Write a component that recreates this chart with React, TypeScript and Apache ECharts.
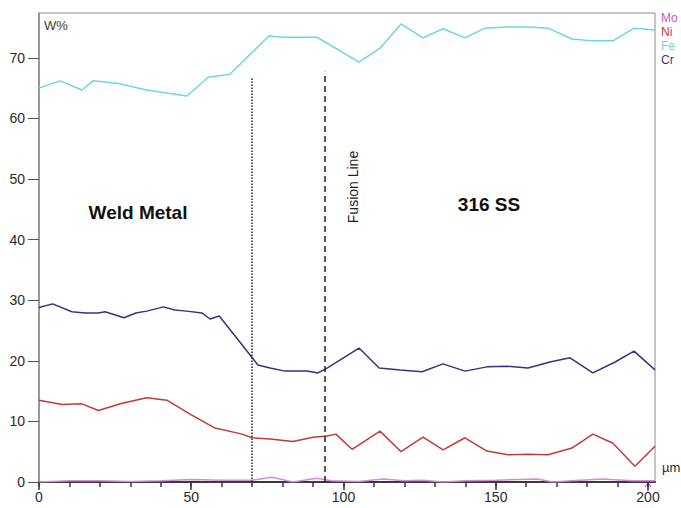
import React, { useEffect, useRef } from "react";
import * as echarts from "echarts";

// Distance along the line scan (µm) and weight percent for each element.
const fe: [number, number][] = [
  [0, 65.0], [6.9, 66.2], [14.1, 64.7], [17.7, 66.2], [25.6, 65.8], [35.4, 64.7],
  [42, 64.2], [48.6, 63.7], [55.6, 66.8], [62.7, 67.3], [75.5, 73.6], [80, 73.4],
  [91.3, 73.4], [105.1, 69.3], [112, 71.6], [118.9, 75.6], [126.1, 73.3], [132.7, 74.8],
  [139.9, 73.3], [146.5, 74.9], [153.7, 75.1], [161.2, 75.1], [167.2, 74.9], [175, 73.1],
  [181.9, 72.8], [188.5, 72.8], [195.4, 74.9], [202.3, 74.6],
];

const cr: [number, number][] = [
  [0, 28.8], [4.5, 29.4], [10.8, 28.1], [15.1, 27.9], [19.5, 27.9], [21.7, 28.1],
  [27.9, 27.1], [31.8, 27.9], [35.4, 28.2], [40.9, 28.9], [44.6, 28.4], [48.5, 28.2],
  [53.5, 27.9], [56.2, 26.9], [59.2, 27.4], [69.9, 20.6], [71.9, 19.3], [75.9, 18.8],
  [80.8, 18.3], [88, 18.3], [91.6, 18.0], [94.6, 18.8], [105.1, 22.1], [111.7, 18.8],
  [118.6, 18.5], [125.8, 18.2], [132.7, 19.5], [139.9, 18.3], [147.1, 19.0], [153.7, 19.1],
  [160.6, 18.8], [167.8, 19.8], [174.4, 20.5], [181.9, 18.0], [189.2, 19.8], [195.4, 21.6],
  [202.3, 18.5],
];

const ni: [number, number][] = [
  [0, 13.5], [7.6, 12.8], [14.1, 12.9], [19.5, 11.8], [27.3, 13.0], [35.4, 13.9],
  [42, 13.5], [49.6, 11.2], [57.8, 8.9], [66.7, 7.9], [69.9, 7.3], [75.9, 7.1],
  [83.4, 6.7], [90, 7.4], [94.6, 7.6], [97.5, 7.9], [102.8, 5.4], [112, 8.4],
  [118.9, 5.0], [126.1, 7.4], [132.7, 5.3], [139.9, 7.3], [147.1, 5.1], [154, 4.5],
  [160.6, 4.6], [167.2, 4.5], [175, 5.6], [181.9, 7.9], [188.5, 6.4], [195.7, 2.6],
  [202.3, 5.9],
];

const mo: [number, number][] = [
  [0, 0], [10, 0.2], [20, 0.2], [30, 0.1], [40, 0.2], [50, 0.4], [60, 0.3],
  [70, 0.3], [76.5, 0.8], [83.4, 0], [91.3, 0.6], [96, 0.2], [105, 0.1], [113, 0.5],
  [120, 0.2], [126, 0.3], [132.7, 0], [140, 0.2], [150, 0.3], [163.5, 0.5],
  [168.8, 0], [175, 0.2], [185, 0.5], [195, 0.2], [202.3, 0.2],
];

// Boundary markers: end of the weld metal and the fusion line.
const weldEdge = { x: 70, top: 66.8 };
const fusionLine = { x: 94, top: 67.7 };

const yTicks = [0, 10, 20, 30, 40, 50, 60, 70];
const xLabels = [0, 50, 100, 150, 200];
const xMinor = [0, 10, 20, 30, 40, 50, 60, 70, 80, 90, 100, 110, 120, 130, 140, 150, 160, 170, 180, 190, 200];

const elements = ["Mo", "Ni", "Fe", "Cr"];
const colors: Record<string, string> = {
  Mo: "#cc55cc",
  Ni: "#c43a3a",
  Fe: "#6ed8de",
  Cr: "#35357e",
};
const lineColors: Record<string, string> = {
  ...colors,
  Mo: "#d88ad8",
};

const FONT = "Liberation Sans, Arial, sans-serif";

export default function App() {
  const ref = useRef<HTMLDivElement>(null);

  useEffect(() => {
    if (!ref.current) return;
    const chart = echarts.init(ref.current, undefined, { renderer: "svg" });

    const xMax = 202.3;
    const yMax = 77.4;

    const line = (name: string, data: [number, number][], extra: any = {}) => ({
      name,
      type: "line",
      data,
      symbol: "none",
      silent: true,
      lineStyle: { color: lineColors[name], width: 1.5 },
      z: 3,
      ...extra,
    });

    chart.setOption({
      animation: false,
      backgroundColor: "#ffffff",
      grid: {
        left: 39,
        right: 26,
        top: 13,
        bottom: 26,
        show: true,
        borderColor: "#8a8a8a",
        borderWidth: 1,
      },
      xAxis: [
        {
          type: "value",
          min: 0,
          max: xMax,
          position: "bottom",
          axisLine: { show: true, onZero: false, lineStyle: { color: "#3a3a3a", width: 2 } },
          axisTick: { show: true, customValues: xMinor, length: 5, lineStyle: { color: "#3a3a3a", width: 1.5 } },
          axisLabel: {
            customValues: xLabels,
            margin: 8,
            color: "#2a2a2a",
            fontSize: 14,
            fontFamily: FONT,
          },
          splitLine: { show: false },
        },
        {
          type: "value",
          min: 0,
          max: xMax,
          position: "bottom",
          axisLine: { show: false },
          axisTick: { show: true, customValues: xLabels, length: 8, lineStyle: { color: "#3a3a3a", width: 1.5 } },
          axisLabel: { show: false },
          splitLine: { show: false },
        },
      ],
      yAxis: {
        type: "value",
        min: 0,
        max: yMax,
        axisLine: { show: true, lineStyle: { color: "#8a8a8a", width: 1.5 } },
        axisTick: { show: true, customValues: yTicks, length: 11, lineStyle: { color: "#555", width: 1 } },
        axisLabel: {
          customValues: yTicks,
          margin: 14,
          color: "#2a2a2a",
          fontSize: 14,
          fontFamily: FONT,
        },
        splitLine: { show: false },
      },
      series: [
        line("Fe", fe),
        line("Cr", cr),
        line("Ni", ni),
        line("Mo", mo, {
          markLine: {
            silent: true,
            symbol: "none",
            label: { show: false },
            data: [
              [
                { coord: [weldEdge.x, 0], lineStyle: { type: [1.5, 1.5], color: "#222", width: 1.5 } },
                { coord: [weldEdge.x, weldEdge.top] },
              ],
              [
                { coord: [fusionLine.x, 0], lineStyle: { type: [6, 4], color: "#222", width: 1.5 } },
                { coord: [fusionLine.x, fusionLine.top] },
              ],
            ],
          },
        }),
      ],
      graphic: [
        {
          type: "text",
          left: 44,
          top: 19,
          style: { text: "W%", fill: "#3a3a3a", font: `13px ${FONT}` },
        },
        {
          type: "text",
          left: 662,
          top: 461,
          style: { text: "µm", fill: "#2a2a2a", font: `13px ${FONT}` },
        },
        ...elements.map((el, i) => ({
          type: "text",
          left: 661,
          top: 12 + i * 14,
          style: { text: el, fill: colors[el], font: `12px ${FONT}` },
        })),
        {
          type: "text",
          x: 138,
          y: 212,
          style: {
            text: "Weld Metal",
            fill: "#111",
            font: `bold 19px ${FONT}`,
            align: "center",
            verticalAlign: "middle",
          },
        },
        {
          type: "text",
          x: 489,
          y: 204,
          style: {
            text: "316 SS",
            fill: "#111",
            font: `bold 19px ${FONT}`,
            align: "center",
            verticalAlign: "middle",
          },
        },
        {
          type: "text",
          x: 353,
          y: 187,
          rotation: Math.PI / 2,
          style: {
            text: "Fusion Line",
            fill: "#222",
            font: `14px ${FONT}`,
            align: "center",
            verticalAlign: "middle",
          },
        },
        {
          type: "polyline",
          shape: { points: [[648, 492], [648, 484]] },
          style: { stroke: "#cc55cc", lineWidth: 1.2, fill: "none" },
        },
        {
          type: "polyline",
          shape: { points: [[645, 487], [648, 483], [651, 487]] },
          style: { stroke: "#cc55cc", lineWidth: 1.2, fill: "none" },
        },
      ],
    });

    return () => chart.dispose();
  }, []);

  return (
    <div
      ref={ref}
      style={{ position: "fixed", left: 0, top: 0, width: 681, height: 508, background: "#fff" }}
    />
  );
}
